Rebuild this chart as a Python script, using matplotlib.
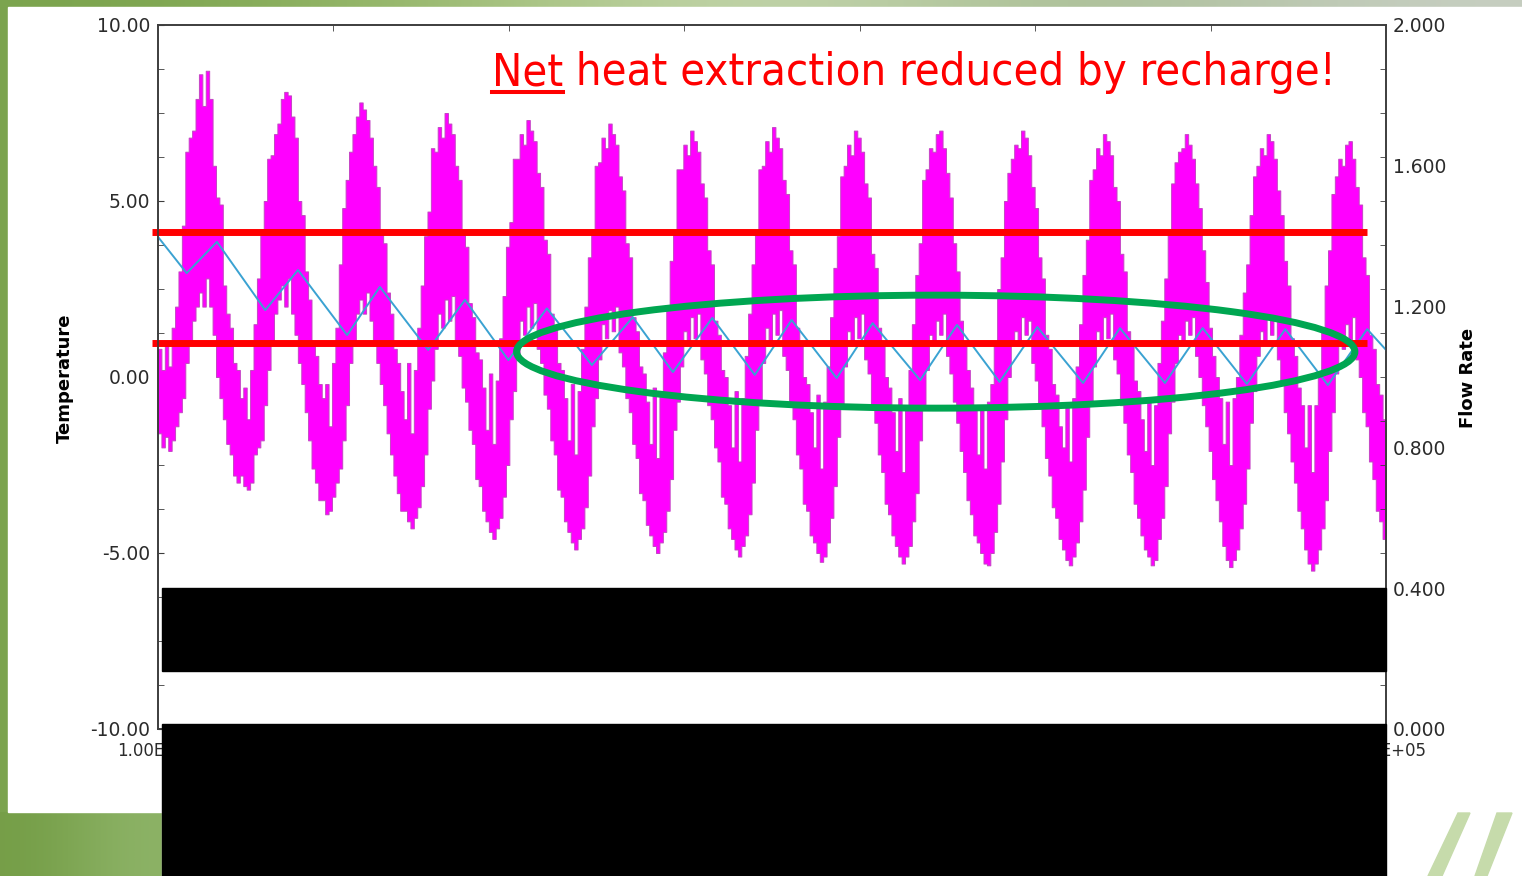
import numpy as np
import matplotlib
matplotlib.use("Agg")
import matplotlib.pyplot as plt
from matplotlib import font_manager
from matplotlib.lines import Line2D
from matplotlib.patches import Rectangle, Ellipse, Polygon
from matplotlib.ticker import MultipleLocator, FixedLocator

W, H = 1522, 876

# ---- values --------------------------------------------------------------
# magenta trace (Temperature): top / bottom of the band, half-month steps,
# one row per simulated year
TEMP_HI = [
    [0.8, 0.2, 1.0, 0.3, 1.4, 2.0, 3.0, 4.3, 6.4, 6.8, 7.0, 7.9, 8.6, 7.7, 8.7, 7.9, 6.0, 5.1, 4.9, 2.6, 1.8, 1.4, 0.4, 0.2],
    [-0.6, -0.3, -1.2, 0.2, 1.5, 2.8, 4.2, 5.0, 6.2, 6.3, 6.9, 7.2, 7.9, 8.1, 8.0, 7.4, 6.8, 5.0, 4.6, 3.0, 2.2, 1.0, 0.6, -0.2],
    [-0.6, -0.2, -1.4, 0.4, 1.4, 3.2, 4.8, 5.6, 6.4, 6.9, 7.4, 7.8, 7.6, 7.3, 6.8, 6.0, 5.4, 4.2, 3.8, 2.4, 1.8, 0.8, 0.4, -0.4],
    [-1.2, 0.4, -1.6, 0.2, 1.4, 2.6, 4.0, 4.7, 6.5, 6.4, 7.1, 6.8, 7.5, 7.2, 6.9, 6.0, 5.6, 4.1, 3.7, 2.1, 1.7, 0.7, 0.5, -0.3],
    [-1.5, 0.1, -1.9, -0.1, 1.1, 2.3, 3.7, 4.4, 6.2, 6.2, 6.9, 6.6, 7.3, 7.0, 6.7, 5.8, 5.4, 3.9, 3.5, 1.8, 1.4, 0.4, 0.2, -0.6],
    [-1.8, -0.2, -2.2, -0.4, 0.8, 2.0, 3.4, 4.2, 6.0, 6.1, 6.8, 6.5, 7.2, 6.9, 6.6, 5.7, 5.3, 3.8, 3.4, 1.7, 1.3, 0.3, 0.1, -0.7],
    [-1.9, -0.3, -2.3, -0.5, 0.7, 1.9, 3.3, 4.1, 5.9, 5.9, 6.6, 6.3, 7.0, 6.7, 6.4, 5.5, 5.1, 3.6, 3.2, 1.6, 1.2, 0.2, 0.0, -0.8],
    [-2.0, -0.4, -2.4, -0.6, 0.6, 1.8, 3.2, 4.1, 5.9, 6.0, 6.7, 6.4, 7.1, 6.8, 6.5, 5.6, 5.2, 3.6, 3.2, 1.4, 1.0, 0.0, -0.2, -1.0],
    [-2.0, -0.5, -2.6, -0.7, 0.3, 1.7, 3.1, 4.0, 5.7, 6.0, 6.6, 6.3, 7.0, 6.8, 6.4, 5.5, 5.1, 3.5, 3.1, 1.4, 1.0, 0.0, -0.3, -1.0],
    [-2.1, -0.6, -2.7, -0.8, 0.2, 1.5, 2.9, 3.8, 5.6, 5.9, 6.5, 6.4, 6.9, 7.0, 6.5, 5.8, 5.1, 3.8, 3.0, 1.6, 0.9, 0.2, -0.3, -0.9],
    [-2.2, -0.8, -2.6, -0.7, -0.2, 1.0, 2.5, 3.4, 5.0, 5.8, 6.2, 6.6, 6.5, 7.0, 6.8, 6.3, 5.4, 4.8, 3.4, 2.8, 1.2, 0.8, -0.2, -0.5],
    [-1.4, -2.0, -0.8, -2.4, -0.6, 0.3, 1.5, 2.9, 3.9, 5.6, 5.9, 6.5, 6.3, 6.9, 6.7, 6.3, 5.4, 5.0, 3.5, 3.0, 1.3, 0.9, -0.1, -0.4],
    [-1.2, -2.1, -0.7, -2.5, -0.8, 0.4, 1.6, 2.8, 4.1, 5.5, 6.1, 6.4, 6.5, 6.9, 6.6, 6.2, 5.5, 4.8, 3.6, 2.7, 1.4, 0.6, 0.0, -0.6],
    [-1.9, -0.7, -2.5, -0.6, 0.0, 1.2, 2.4, 3.2, 4.6, 5.7, 6.0, 6.5, 6.3, 6.9, 6.7, 6.2, 5.3, 4.6, 3.3, 2.6, 1.1, 0.6, -0.3, -0.8],
    [-2.0, -0.8, -2.7, -0.8, 0.1, 1.3, 2.6, 3.6, 5.2, 5.7, 6.2, 6.0, 6.6, 6.7, 6.2, 5.4, 4.9, 3.4, 2.9, 1.2, 0.8, -0.2, -0.5, -1.2],
]
TEMP_LO = [
    [-1.6, -2.0, -1.7, -2.1, -1.8, -1.4, -1.0, -0.6, 0.4, 1.0, 1.6, 2.0, 2.4, 2.0, 2.8, 2.0, 1.2, 0.0, -0.6, -1.2, -1.9, -2.2, -2.8, -3.0],
    [-2.8, -3.1, -3.2, -3.0, -2.2, -2.0, -1.8, -0.8, 0.2, 1.0, 1.8, 2.2, 2.6, 2.0, 2.8, 1.8, 1.2, 0.4, -0.2, -1.0, -1.8, -2.6, -3.0, -3.5],
    [-3.5, -3.9, -3.8, -3.4, -3.0, -2.6, -1.8, -0.8, 0.4, 1.0, 1.8, 2.2, 1.8, 2.4, 1.6, 1.0, 0.4, -0.2, -0.8, -1.6, -2.2, -2.8, -3.3, -3.8],
    [-3.8, -4.1, -4.3, -4.0, -3.7, -3.1, -2.2, -0.9, -0.1, 0.8, 1.8, 1.4, 2.2, 1.6, 2.3, 1.0, 0.6, -0.3, -0.7, -1.5, -1.9, -2.9, -3.1, -3.8],
    [-4.1, -4.4, -4.6, -4.3, -4.0, -3.4, -2.5, -1.2, -0.4, 0.6, 1.6, 1.2, 2.0, 1.4, 2.1, 0.8, 0.4, -0.5, -0.9, -1.8, -2.2, -3.2, -3.4, -4.1],
    [-4.4, -4.7, -4.9, -4.6, -4.3, -3.7, -2.8, -1.4, -0.6, 0.5, 1.5, 1.1, 1.9, 1.3, 2.0, 0.7, 0.3, -0.6, -1.0, -1.9, -2.3, -3.3, -3.5, -4.2],
    [-4.5, -4.8, -5.0, -4.7, -4.4, -3.8, -2.9, -1.5, -0.7, 0.3, 1.3, 0.9, 1.7, 1.1, 1.8, 0.5, 0.1, -0.8, -1.2, -2.0, -2.4, -3.4, -3.6, -4.3],
    [-4.6, -4.9, -5.1, -4.8, -4.5, -3.9, -3.0, -1.5, -0.7, 0.4, 1.4, 1.0, 1.8, 1.2, 1.9, 0.6, 0.2, -0.8, -1.2, -2.2, -2.6, -3.6, -3.8, -4.5],
    [-4.7, -5.0, -5.25, -5.1, -4.7, -4.0, -3.1, -1.7, -0.8, 0.3, 1.3, 0.9, 1.7, 1.1, 1.8, 0.5, 0.1, -0.9, -1.3, -2.2, -2.7, -3.6, -3.9, -4.5],
    [-4.8, -5.1, -5.3, -5.1, -4.8, -4.1, -3.3, -1.8, -0.9, 0.2, 1.2, 1.0, 1.6, 1.2, 1.8, 0.6, 0.1, -0.7, -1.3, -2.1, -2.7, -3.5, -3.9, -4.5],
    [-4.7, -5.0, -5.3, -5.35, -5.0, -4.4, -3.6, -2.4, -1.2, 0.0, 1.0, 1.3, 1.0, 1.7, 1.2, 1.6, 0.4, -0.1, -0.9, -1.4, -2.3, -2.8, -3.7, -4.0],
    [-4.6, -4.9, -5.2, -5.35, -5.1, -4.7, -4.1, -3.2, -1.7, -0.8, 0.3, 1.3, 0.9, 1.7, 1.1, 1.8, 0.5, 0.1, -0.8, -1.3, -2.2, -2.7, -3.6, -4.0],
    [-4.5, -4.9, -5.1, -5.35, -5.2, -4.6, -4.0, -3.1, -1.6, -0.7, 0.4, 1.2, 1.0, 1.6, 1.2, 1.7, 0.6, 0.0, -0.8, -1.4, -2.1, -2.9, -3.5, -4.1],
    [-4.8, -5.2, -5.4, -5.2, -4.9, -4.3, -3.6, -2.6, -1.3, -0.4, 0.6, 1.3, 1.0, 1.7, 1.2, 1.7, 0.5, -0.2, -1.0, -1.6, -2.4, -3.0, -3.8, -4.3],
    [-4.9, -5.3, -5.5, -5.3, -4.9, -4.3, -3.5, -2.1, -1.0, 0.1, 1.0, 0.8, 1.5, 1.0, 1.7, 0.5, 0.0, -1.0, -1.4, -2.4, -2.9, -3.8, -4.1, -4.6],
]
STEPS_PER_YEAR = 24
N_YEARS = 15

# cyan trace (Temperature): turning points (year, value)
CYAN_YEARS = [0.0, 0.35, 0.72, 1.31, 1.71, 2.31, 2.71, 3.30, 3.75, 4.28, 4.75,
              5.30, 5.80, 6.29, 6.77, 7.29, 7.74, 8.29, 8.73, 9.31, 9.76,
              10.28, 10.74, 11.30, 11.75, 12.30, 12.76, 13.30, 13.77, 14.29,
              14.77, 15.0]
CYAN_TEMP = [3.98, 2.95, 3.84, 1.90, 3.04, 1.19, 2.56, 0.77, 2.19, 0.48, 1.95,
             0.34, 1.70, 0.14, 1.68, 0.06, 1.62, -0.03, 1.53, -0.09, 1.48,
             -0.14, 1.42, -0.17, 1.39, -0.17, 1.39, -0.20, 1.36, -0.23,
             1.36, 0.77]

TEMP_TICKS = [-10, -5, 0, 5, 10]
FLOW_TICKS = [0.0, 0.4, 0.8, 1.2, 1.6, 2.0]
X_TICK_LABELS = ["1.00E+00", "5.48E+05"]

# slide annotations (red reference levels, green ellipse)
RED_LEVELS = [4.12, 0.97]
RED_SPAN = (-0.073, 14.77)
ELLIPSE_CENTER = (9.50, 0.72)
ELLIPSE_SIZE = (10.24, 3.21)
TITLE_U = "Net"
TITLE_REST = " heat extraction reduced by recharge!"


def fx(px):
    return px / W


def fy(py):
    return 1 - py / H


def narrow_font():
    # look for any condensed sans face; fall back to an Arial-like one
    best = None
    for f in font_manager.fontManager.ttflist:
        name = f.name.lower()
        fname = f.fname.lower()
        narrow = ("narrow" in name or "condensed" in name or "narrow" in fname
                  or "condensed" in fname
                  or str(f.stretch) in ("condensed", "semi-condensed",
                                        "extra-condensed"))
        if not narrow or "mono" in name or "serif" in name and "sans" not in name:
            continue
        if "bold" in fname or "italic" in fname or "oblique" in fname:
            continue
        if f.weight not in (400, "normal", "regular"):
            continue
        score = 0 if ("liberation" in name or "arial" in name) else 1
        if best is None or score < best[0]:
            best = (score, f.fname)
    if best:
        return font_manager.FontProperties(fname=best[1])
    return font_manager.FontProperties(family="Liberation Sans")


def draw_background(fig):
    bg = fig.add_axes([0, 0, 1, 1], zorder=-5)
    bg.axis("off")
    # top strip of the slide
    top = np.array([[0.48, 0.64, 0.30], [0.62, 0.74, 0.45], [0.80, 0.86, 0.72],
                    [0.64, 0.73, 0.55], [0.78, 0.81, 0.76]])
    bg.imshow(top[None, :, :], extent=[0, W, 7, 0], aspect="auto",
              interpolation="bicubic")
    # bottom left corner of the slide
    low = np.array([[0.46, 0.62, 0.28], [0.55, 0.70, 0.40]])
    bg.imshow(low[None, :, :], extent=[0, 162, H, 812], aspect="auto",
              interpolation="bicubic")
    bg.add_patch(Rectangle((8, 7), W - 8, 805, color="white", zorder=2))
    bg.add_patch(Rectangle((162, 812), W - 162, H - 812, color="white", zorder=2))
    for pts in ([(1458, 813), (1470, 813), (1442, H), (1428, H)],
                [(1497, 813), (1512, 813), (1487, H), (1475, H)]):
        bg.add_patch(Polygon(pts, closed=True, color="#c6dbab", zorder=3))
    bg.set_xlim(0, W)
    bg.set_ylim(H, 0)


def main():
    fig = plt.figure(figsize=(W / 100, H / 100), dpi=100)
    fig.patch.set_facecolor("#7ba34e")
    draw_background(fig)

    ax = fig.add_axes([fx(158), fy(729), 1228 / W, 704 / H])
    ax.set_facecolor("white")

    hi = np.array(TEMP_HI).ravel()
    lo = np.array(TEMP_LO).ravel()
    t = np.arange(hi.size + 1) / STEPS_PER_YEAR
    hi = np.append(hi, hi[-1])
    lo = np.append(lo, lo[-1])
    ax.fill_between(t, lo, hi, step="post", facecolor="#ff00ff",
                    edgecolor="#c445c4", linewidth=0.7, zorder=2)

    ax.plot(CYAN_YEARS, CYAN_TEMP, color="#3aa2d2", lw=1.4, zorder=3)

    for level in RED_LEVELS:
        ax.plot(RED_SPAN, [level, level], color="#ff0000", lw=5.0,
                solid_capstyle="butt", clip_on=False, zorder=4)
    ax.add_patch(Ellipse(ELLIPSE_CENTER, *ELLIPSE_SIZE, fill=False,
                         edgecolor="#00a651", lw=5.0, zorder=5))

    ax.set_xlim(0, N_YEARS)
    ax.set_ylim(-10, 10)
    spine_c = "#3d3d3d"
    for sp in ax.spines.values():
        sp.set_color(spine_c)
        sp.set_linewidth(1.2)

    ax.set_xticks([0, N_YEARS])
    ax.set_xticklabels(X_TICK_LABELS)
    ax.xaxis.set_minor_locator(FixedLocator([N_YEARS * k / 7 for k in range(1, 7)]))
    ax.tick_params(axis="x", which="major", length=0, pad=9, labelsize=12,
                   labelcolor="#2b2b2b")
    ax.tick_params(axis="x", which="minor", top=True, bottom=False,
                   direction="in", length=4, color=spine_c)

    ax.set_yticks(TEMP_TICKS)
    ax.set_yticklabels(["%.2f" % v for v in TEMP_TICKS])
    ax.yaxis.set_minor_locator(MultipleLocator(1.25))
    ax.tick_params(axis="y", which="both", direction="in", length=4,
                   color=spine_c, labelsize=13.5, labelcolor="#2b2b2b", pad=5.5)
    ax.set_ylabel("Temperature", fontsize=13, fontweight="bold",
                  va="center", ha="center")
    ax.yaxis.set_label_coords((65 - 158) / 1228, (729 - 378) / 704)

    ax2 = ax.twinx()
    ax2.set_ylim(0, 2.0)
    ax2.set_yticks(FLOW_TICKS)
    ax2.set_yticklabels(["%.3f" % v for v in FLOW_TICKS])
    ax2.yaxis.set_minor_locator(MultipleLocator(0.125))
    ax2.tick_params(axis="y", which="major", length=0, labelsize=13.5,
                    labelcolor="#2b2b2b", pad=5)
    ax2.tick_params(axis="y", which="minor", direction="in", length=4,
                    color=spine_c)
    for sp in ax2.spines.values():
        sp.set_color(spine_c)
        sp.set_linewidth(1.2)
    ax2.set_ylabel("Flow Rate", fontsize=13, fontweight="bold",
                   va="center", ha="center")
    ax2.yaxis.set_label_coords((1468 - 158) / 1228, (729 - 378) / 704)

    # black boxes hiding parts of the slide
    for x0, y0, x1, y1 in ((162, 588, 1386, 671), (162, 724, 1386, H)):
        fig.add_artist(Rectangle((fx(x0), fy(y1)), (x1 - x0) / W, (y1 - y0) / H,
                                 transform=fig.transFigure, color="black",
                                 zorder=20))

    # headline with underlined first word, fitted to its width on the slide
    fp = narrow_font()
    fs = 37
    t1 = fig.text(fx(492), fy(85), TITLE_U, color="#ff0000", fontproperties=fp,
                  fontsize=fs, va="baseline", ha="left", zorder=25)
    t2 = fig.text(0, fy(85), TITLE_REST, color="#ff0000", fontproperties=fp,
                  fontsize=fs, va="baseline", ha="left", zorder=25)
    r = fig.canvas.get_renderer()
    total = t1.get_window_extent(r).width + t2.get_window_extent(r).width
    fs = min(40, fs * 846 / total)
    t1.set_fontsize(fs)
    t2.set_fontsize(fs)
    b1 = t1.get_window_extent(r)
    t2.set_x(b1.x1 / W)
    fig.add_artist(Line2D([b1.x0 / W, b1.x1 / W], [fy(92), fy(92)],
                          color="#ff0000", lw=2.9, transform=fig.transFigure,
                          zorder=25))

    fig.savefig("out.png", dpi=100, facecolor=fig.get_facecolor())


if __name__ == "__main__":
    main()
